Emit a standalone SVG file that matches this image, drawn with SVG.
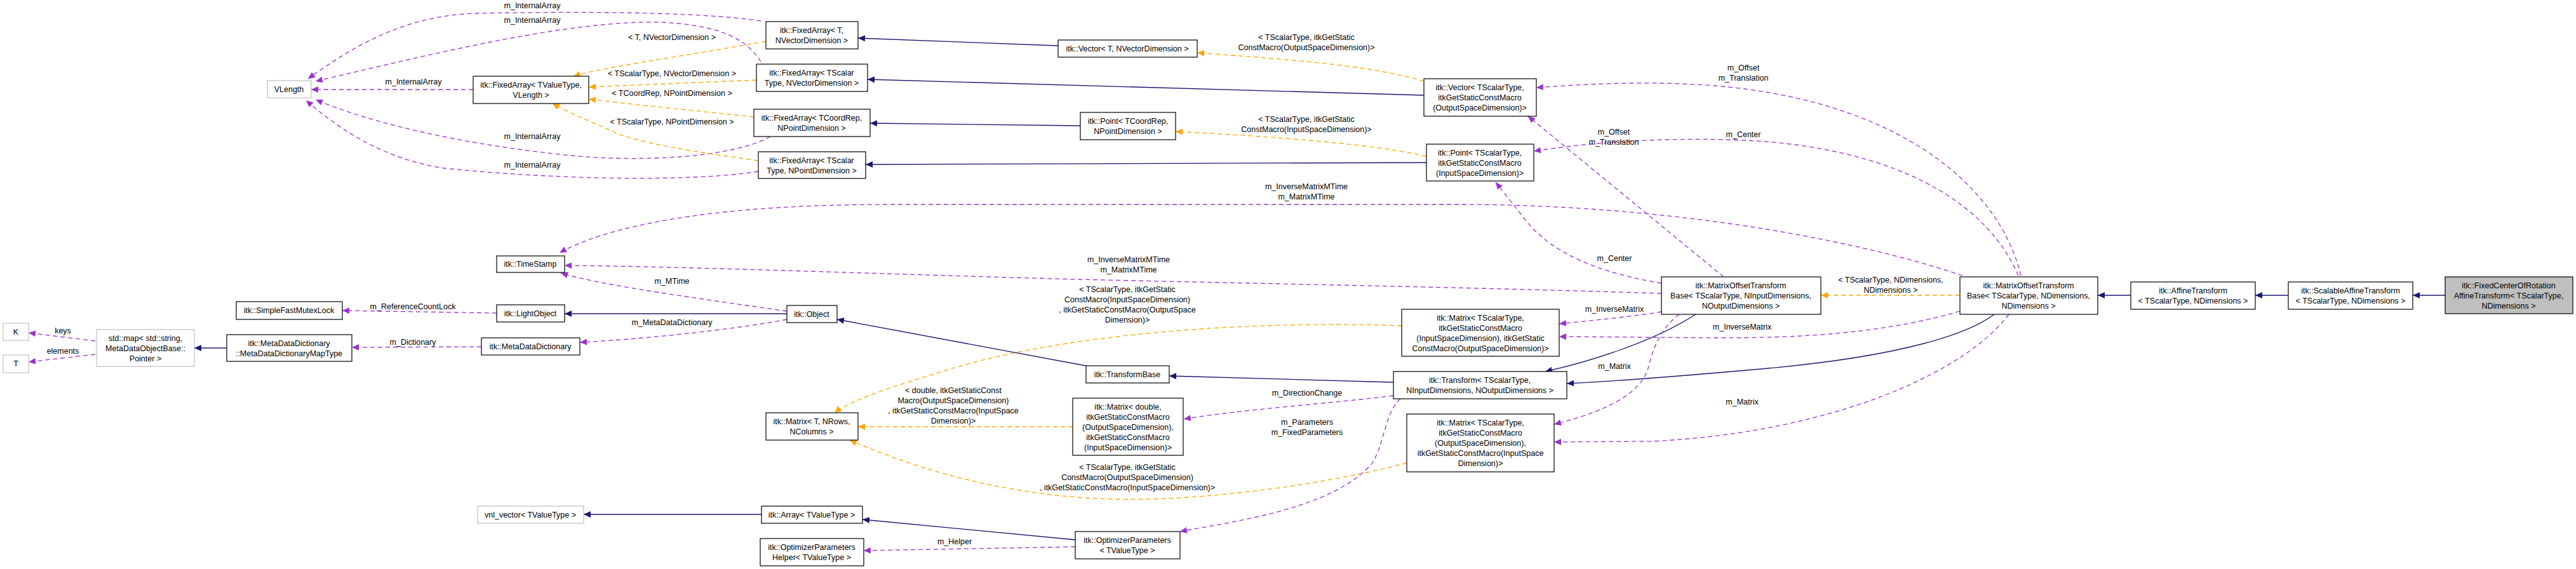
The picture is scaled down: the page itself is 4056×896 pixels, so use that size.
<svg xmlns="http://www.w3.org/2000/svg" width="4056" height="896" viewBox="0 0 4056 896">
<style>
text{font-family:"Liberation Sans",Arial,sans-serif;font-size:12.5px;fill:#000;text-anchor:middle}
.n rect{fill:#fff;stroke:#000;stroke-width:1.2}
.g rect{fill:#fff;stroke:#bfbfbf;stroke-width:1.2}
.inh{fill:none;stroke:#191970;stroke-width:1.3}
.use{fill:none;stroke:#9a32cd;stroke-width:1.3;stroke-dasharray:7,5}
.tpl{fill:none;stroke:#ffa500;stroke-width:1.3;stroke-dasharray:7,5}
</style>
<defs>
<marker id="ai" markerWidth="12" markerHeight="10" refX="11" refY="5" orient="auto" markerUnits="userSpaceOnUse"><path d="M0,0L11,5L0,10z" fill="#191970"/></marker>
<marker id="au" markerWidth="12" markerHeight="10" refX="11" refY="5" orient="auto" markerUnits="userSpaceOnUse"><path d="M0,0L11,5L0,10z" fill="#9a32cd"/></marker>
<marker id="at" markerWidth="12" markerHeight="10" refX="11" refY="5" orient="auto" markerUnits="userSpaceOnUse"><path d="M0,0L11,5L0,10z" fill="#ffa500"/></marker>
</defs>
<rect width="4056" height="896" fill="#fff"/>
<g id="connectors">
<path class="use" marker-end="url(#au)" d="M1198,33 C1100,18 900,18 751,21 C640,24 560,70 485,124"/>
<path class="use" marker-end="url(#au)" d="M1198,97 C1180,70 1150,40 1040,35 C900,32 700,80 497,128"/>
<path class="use" marker-end="url(#au)" d="M745,141 L490,141"/>
<path class="use" marker-end="url(#au)" d="M1213,215 C1150,250 1000,255 900,245 C750,230 600,200 497,157"/>
<path class="use" marker-end="url(#au)" d="M1194,270 C1100,285 900,285 700,265 C600,250 530,200 482,158"/>
<path class="tpl" marker-end="url(#at)" d="M1206,65 C1100,85 950,105 903,120"/>
<path class="tpl" marker-end="url(#at)" d="M1191,126 L927,137"/>
<path class="tpl" marker-end="url(#at)" d="M1187,184 C1100,175 1000,165 927,156"/>
<path class="tpl" marker-end="url(#at)" d="M1194,253 C1100,240 1000,225 960,205 C940,195 900,180 870,163"/>
<path class="inh" marker-end="url(#ai)" d="M1666,72 L1351,60"/>
<path class="inh" marker-end="url(#ai)" d="M2242,150 L1366,125"/>
<path class="inh" marker-end="url(#ai)" d="M1701,198 L1370,194"/>
<path class="inh" marker-end="url(#ai)" d="M2246,256 L1363,259"/>
<path class="tpl" marker-end="url(#at)" d="M2242,128 C2150,100 2000,92 1885,83"/>
<path class="tpl" marker-end="url(#at)" d="M2246,246 C2150,225 2000,215 1851,207"/>
<path class="use" marker-end="url(#au)" d="M3090,434 C2900,370 2600,322 2300,322 L1400,322 C1100,322 950,360 881,398"/>
<path class="use" marker-end="url(#au)" d="M2616,462 C2300,452 2000,447 1700,440 C1400,432 1100,420 889,418"/>
<path class="use" marker-end="url(#au)" d="M1239,490 C1100,470 950,450 883,430"/>
<path class="inh" marker-end="url(#ai)" d="M1239,494 L889,494"/>
<path class="inh" marker-end="url(#ai)" d="M1710,576 L1318,503"/>
<path class="use" marker-end="url(#au)" d="M782,493 L539,489"/>
<path class="use" marker-end="url(#au)" d="M1239,503 C1150,520 1000,535 913,539"/>
<path class="use" marker-end="url(#au)" d="M758,546 L554,547"/>
<path class="inh" marker-end="url(#ai)" d="M357,548 L306,548"/>
<path class="use" marker-end="url(#au)" d="M150,537 L45,524"/>
<path class="use" marker-end="url(#au)" d="M150,558 L45,570"/>
<path class="inh" marker-end="url(#ai)" d="M1199,810 L919,810"/>
<path class="inh" marker-end="url(#ai)" d="M1693,850 L1358,818"/>
<path class="use" marker-end="url(#au)" d="M1693,861 L1360,867"/>
<path class="inh" marker-end="url(#ai)" d="M2194,602 L1841,592"/>
<path class="inh" marker-end="url(#ai)" d="M2670,495 C2600,540 2500,570 2433,585"/>
<path class="inh" marker-end="url(#ai)" d="M3140,495 C3100,525 3000,560 2784,580 C2650,592 2550,600 2467,604"/>
<path class="tpl" marker-end="url(#at)" d="M3086,465 L2867,465"/>
<path class="inh" marker-end="url(#ai)" d="M3355,465 L3303,465"/>
<path class="inh" marker-end="url(#ai)" d="M3603,465 L3551,465"/>
<path class="inh" marker-end="url(#ai)" d="M3850,465 L3799,465"/>
<path class="use" marker-end="url(#au)" d="M2616,491 C2560,500 2500,505 2455,510"/>
<path class="use" marker-end="url(#au)" d="M3086,490 C2950,530 2800,532 2700,532 L2455,530"/>
<path class="use" marker-end="url(#au)" d="M2644,495 C2610,520 2600,560 2595,580 C2580,630 2500,655 2447,668"/>
<path class="use" marker-end="url(#au)" d="M3163,495 C3100,580 2900,680 2600,695 L2447,696"/>
<path class="use" marker-end="url(#au)" d="M3182,434 C3150,300 3000,160 2700,135 C2600,127 2500,132 2419,138"/>
<path class="use" marker-end="url(#au)" d="M3178,434 C3120,300 2950,225 2720,220 C2600,217 2500,225 2415,238"/>
<path class="use" marker-end="url(#au)" d="M2714,436 L2406,183"/>
<path class="use" marker-end="url(#au)" d="M2616,446 C2520,430 2440,400 2397,340 L2355,287"/>
<path class="use" marker-end="url(#au)" d="M2194,623 C2100,635 1950,645 1864,660"/>
<path class="use" marker-end="url(#au)" d="M2205,628 C2180,650 2180,700 2160,730 C2100,800 1950,820 1858,837"/>
<path class="tpl" marker-end="url(#at)" d="M2207,513 C2000,505 1700,520 1500,580 C1400,610 1340,630 1314,650"/>
<path class="tpl" marker-end="url(#at)" d="M1689,672 L1351,672"/>
<path class="tpl" marker-end="url(#at)" d="M2215,729 C2100,760 1900,790 1750,786 C1550,780 1400,720 1338,693"/>
<text x="838" y="13">m_InternalArray</text>
<text x="838" y="36">m_InternalArray</text>
<text x="651" y="133">m_InternalArray</text>
<text x="838" y="219">m_InternalArray</text>
<text x="838" y="264">m_InternalArray</text>
<text x="1058" y="63">&lt; T, NVectorDimension &gt;</text>
<text x="1058" y="120">&lt; TScalarType, NVectorDimension &gt;</text>
<text x="1058" y="151">&lt; TCoordRep, NPointDimension &gt;</text>
<text x="1058" y="196">&lt; TScalarType, NPointDimension &gt;</text>
<text x="2057" y="63">&lt; TScalarType, itkGetStatic</text>
<text x="2057" y="79">ConstMacro(OutputSpaceDimension)&gt;</text>
<text x="2057" y="192">&lt; TScalarType, itkGetStatic</text>
<text x="2057" y="208">ConstMacro(InputSpaceDimension)&gt;</text>
<text x="2057" y="298">m_InverseMatrixMTime</text>
<text x="2057" y="314">m_MatrixMTime</text>
<text x="1777" y="413">m_InverseMatrixMTime</text>
<text x="1777" y="429">m_MatrixMTime</text>
<text x="1058" y="447">m_MTime</text>
<text x="650" y="487">m_ReferenceCountLock</text>
<text x="1058" y="512">m_MetaDataDictionary</text>
<text x="650" y="543">m_Dictionary</text>
<text x="99" y="525">keys</text>
<text x="99" y="557">elements</text>
<text x="1775" y="460">&lt; TScalarType, itkGetStatic</text>
<text x="1775" y="476">ConstMacro(InputSpaceDimension)</text>
<text x="1775" y="492">, itkGetStaticConstMacro(OutputSpace</text>
<text x="1775" y="508">Dimension)&gt;</text>
<text x="1501" y="619">&lt; double, itkGetStaticConst</text>
<text x="1501" y="635">Macro(OutputSpaceDimension)</text>
<text x="1501" y="651">, itkGetStaticConstMacro(InputSpace</text>
<text x="1501" y="667">Dimension)&gt;</text>
<text x="1775" y="740">&lt; TScalarType, itkGetStatic</text>
<text x="1775" y="756">ConstMacro(OutputSpaceDimension)</text>
<text x="1775" y="772">, itkGetStaticConstMacro(InputSpaceDimension)&gt;</text>
<text x="1503" y="857">m_Helper</text>
<text x="2058" y="623">m_DirectionChange</text>
<text x="2058" y="669">m_Parameters</text>
<text x="2058" y="685">m_FixedParameters</text>
<text x="2541" y="212">m_Offset</text>
<text x="2541" y="228">m_Translation</text>
<text x="2542" y="411">m_Center</text>
<text x="2745" y="111">m_Offset</text>
<text x="2745" y="127">m_Translation</text>
<text x="2745" y="216">m_Center</text>
<text x="2542" y="491">m_InverseMatrix</text>
<text x="2743" y="519">m_InverseMatrix</text>
<text x="2542" y="581">m_Matrix</text>
<text x="2743" y="637">m_Matrix</text>
<text x="2977" y="445">&lt; TScalarType, NDimensions,</text>
<text x="2977" y="461">NDimensions &gt;</text>
</g>
<g id="VLength" class="g"><rect x="421" y="127" width="69" height="27"/><text x="455" y="145">VLength</text></g>
<g id="FA_TValueType" class="n"><rect x="745" y="120" width="182" height="43"/><text x="836" y="138">itk::FixedArray&lt; TValueType,</text><text x="836" y="154">VLength &gt;</text></g>
<g id="FA_T_NVec" class="n"><rect x="1206" y="34" width="145" height="43"/><text x="1278" y="52">itk::FixedArray&lt; T,</text><text x="1278" y="68">NVectorDimension &gt;</text></g>
<g id="FA_TScalar_NVec" class="n"><rect x="1191" y="101" width="175" height="43"/><text x="1278" y="119">itk::FixedArray&lt; TScalar</text><text x="1278" y="135">Type, NVectorDimension &gt;</text></g>
<g id="FA_TCoordRep" class="n"><rect x="1187" y="172" width="183" height="43"/><text x="1278" y="190">itk::FixedArray&lt; TCoordRep,</text><text x="1278" y="206">NPointDimension &gt;</text></g>
<g id="FA_TScalar_NPoint" class="n"><rect x="1194" y="239" width="169" height="42"/><text x="1278" y="257">itk::FixedArray&lt; TScalar</text><text x="1278" y="273">Type, NPointDimension &gt;</text></g>
<g id="Vector_T" class="n"><rect x="1666" y="63" width="219" height="27"/><text x="1775" y="81">itk::Vector&lt; T, NVectorDimension &gt;</text></g>
<g id="Point_TCoordRep" class="n"><rect x="1701" y="177" width="150" height="43"/><text x="1776" y="195">itk::Point&lt; TCoordRep,</text><text x="1776" y="211">NPointDimension &gt;</text></g>
<g id="Vector_TScalar" class="n"><rect x="2242" y="124" width="177" height="59"/><text x="2330" y="142">itk::Vector&lt; TScalarType,</text><text x="2330" y="158">itkGetStaticConstMacro</text><text x="2330" y="174">(OutputSpaceDimension)&gt;</text></g>
<g id="Point_TScalar" class="n"><rect x="2246" y="227" width="169" height="58"/><text x="2330" y="245">itk::Point&lt; TScalarType,</text><text x="2330" y="261">itkGetStaticConstMacro</text><text x="2330" y="277">(InputSpaceDimension)&gt;</text></g>
<g id="TimeStamp" class="n"><rect x="782" y="403" width="107" height="26"/><text x="835" y="420">itk::TimeStamp</text></g>
<g id="SimpleFastMutexLock" class="n"><rect x="372" y="475" width="167" height="28"/><text x="455" y="493">itk::SimpleFastMutexLock</text></g>
<g id="LightObject" class="n"><rect x="782" y="480" width="107" height="27"/><text x="835" y="498">itk::LightObject</text></g>
<g id="Object" class="n"><rect x="1239" y="481" width="79" height="27"/><text x="1278" y="499">itk::Object</text></g>
<g id="K" class="g"><rect x="5" y="509" width="40" height="27"/><text x="25" y="527">K</text></g>
<g id="T" class="g"><rect x="5" y="559" width="40" height="28"/><text x="25" y="577">T</text></g>
<g id="StdMap" class="g"><rect x="152" y="519" width="154" height="58"/><text x="229" y="537">std::map&lt; std::string,</text><text x="229" y="553">MetaDataObjectBase::</text><text x="229" y="569">Pointer &gt;</text></g>
<g id="MapType" class="n"><rect x="357" y="527" width="197" height="42"/><text x="455" y="545">itk::MetaDataDictionary</text><text x="455" y="561">::MetaDataDictionaryMapType</text></g>
<g id="MetaDataDictionary" class="n"><rect x="758" y="532" width="155" height="27"/><text x="835" y="550">itk::MetaDataDictionary</text></g>
<g id="Matrix_T" class="n"><rect x="1206" y="650" width="145" height="43"/><text x="1278" y="668">itk::Matrix&lt; T, NRows,</text><text x="1278" y="684">NColumns &gt;</text></g>
<g id="vnl_vector" class="g"><rect x="752" y="797" width="167" height="27"/><text x="835" y="815">vnl_vector&lt; TValueType &gt;</text></g>
<g id="Array" class="n"><rect x="1199" y="797" width="159" height="27"/><text x="1278" y="815">itk::Array&lt; TValueType &gt;</text></g>
<g id="OptHelper" class="n"><rect x="1197" y="848" width="163" height="43"/><text x="1278" y="866">itk::OptimizerParameters</text><text x="1278" y="882">Helper&lt; TValueType &gt;</text></g>
<g id="TransformBase" class="n"><rect x="1710" y="576" width="131" height="27"/><text x="1775" y="594">itk::TransformBase</text></g>
<g id="Matrix_double" class="n"><rect x="1689" y="627" width="174" height="90"/><text x="1776" y="645">itk::Matrix&lt; double,</text><text x="1776" y="661">itkGetStaticConstMacro</text><text x="1776" y="677">(OutputSpaceDimension),</text><text x="1776" y="693">itkGetStaticConstMacro</text><text x="1776" y="709">(InputSpaceDimension)&gt;</text></g>
<g id="OptParams" class="n"><rect x="1693" y="837" width="165" height="43"/><text x="1775" y="855">itk::OptimizerParameters</text><text x="1775" y="871">&lt; TValueType &gt;</text></g>
<g id="Matrix_IO" class="n"><rect x="2207" y="487" width="248" height="74"/><text x="2331" y="505">itk::Matrix&lt; TScalarType,</text><text x="2331" y="521">itkGetStaticConstMacro</text><text x="2331" y="537">(InputSpaceDimension), itkGetStatic</text><text x="2331" y="553">ConstMacro(OutputSpaceDimension)&gt;</text></g>
<g id="Transform" class="n"><rect x="2194" y="585" width="273" height="43"/><text x="2330" y="603">itk::Transform&lt; TScalarType,</text><text x="2330" y="619">NInputDimensions, NOutputDimensions &gt;</text></g>
<g id="Matrix_OI" class="n"><rect x="2215" y="652" width="232" height="91"/><text x="2331" y="670">itk::Matrix&lt; TScalarType,</text><text x="2331" y="686">itkGetStaticConstMacro</text><text x="2331" y="702">(OutputSpaceDimension),</text><text x="2331" y="718">itkGetStaticConstMacro(InputSpace</text><text x="2331" y="734">Dimension)&gt;</text></g>
<g id="MOTB_InOut" class="n"><rect x="2616" y="436" width="251" height="59"/><text x="2741" y="454">itk::MatrixOffsetTransform</text><text x="2741" y="470">Base&lt; TScalarType, NInputDimensions,</text><text x="2741" y="486">NOutputDimensions &gt;</text></g>
<g id="MOTB_NDim" class="n"><rect x="3086" y="436" width="217" height="59"/><text x="3194" y="454">itk::MatrixOffsetTransform</text><text x="3194" y="470">Base&lt; TScalarType, NDimensions,</text><text x="3194" y="486">NDimensions &gt;</text></g>
<g id="AffineTransform" class="n"><rect x="3355" y="444" width="196" height="43"/><text x="3453" y="462">itk::AffineTransform</text><text x="3453" y="478">&lt; TScalarType, NDimensions &gt;</text></g>
<g id="ScalableAffineTransform" class="n"><rect x="3603" y="444" width="196" height="43"/><text x="3701" y="462">itk::ScalableAffineTransform</text><text x="3701" y="478">&lt; TScalarType, NDimensions &gt;</text></g>
<g id="FixedCenterOfRotationAffineTransform" class="n"><rect x="3850" y="436" width="201" height="58" style="fill:#bfbfbf"/><text x="3950" y="454">itk::FixedCenterOfRotation</text><text x="3950" y="470">AffineTransform&lt; TScalarType,</text><text x="3950" y="486">NDimensions &gt;</text></g>
</svg>
